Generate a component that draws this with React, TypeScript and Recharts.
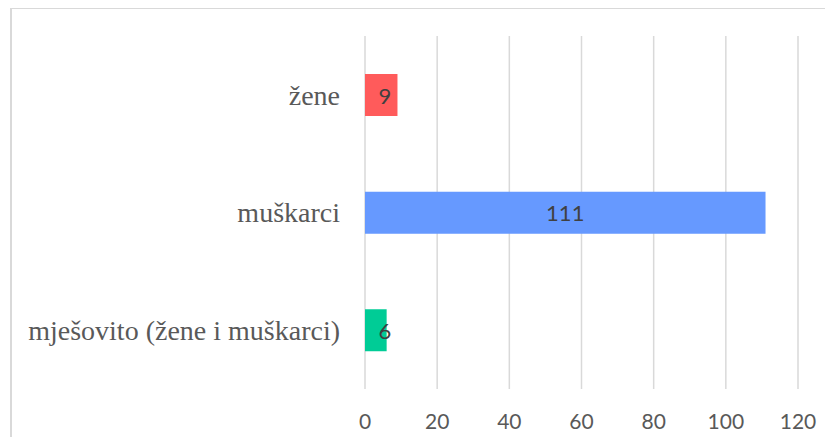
import { BarChart, Bar, XAxis, YAxis, CartesianGrid, Cell, LabelList } from "recharts"

const CATEGORIES = ["žene", "muškarci", "mješovito (žene i muškarci)"]
const VALUES = [9, 111, 6]
const BAR_COLORS = ["#FF5B5B", "#6699FF", "#00CC96"]
const X_TICKS = [0, 20, 40, 60, 80, 100, 120]

const data = CATEGORIES.map((name, i) => ({ name, value: VALUES[i] }))

function BarValue(props: any) {
  const { x, y, width, height, value } = props
  const cx = Math.max(x + width / 2, x + 20)
  return (
    <text
      x={cx}
      y={y + height / 2}
      textAnchor="middle"
      dominantBaseline="central"
      fill="#404040"
      style={{ fontFamily: "Lato, sans-serif", fontSize: 22 }}
    >
      {value}
    </text>
  )
}

export default function App() {
  return (
    <div style={{ position: "relative", width: 817, height: 429 }}>
      {/* chart frame, right and bottom edges fall outside the window */}
      <div
        style={{
          position: "absolute",
          left: 2,
          top: -1,
          width: 823,
          height: 437,
          borderTop: "2px solid #d9d9d9",
          borderLeft: "2px solid #d9d9d9",
          boxSizing: "border-box",
        }}
      />
      <BarChart
        width={817}
        height={450}
        data={data}
        layout="vertical"
        margin={{ top: 28, right: 27, bottom: 0, left: 0 }}
        barSize={42}
        style={{ overflow: "visible" }}
      >
        <CartesianGrid horizontal={false} stroke="#d9d9d9" strokeWidth={1.5} />
        <XAxis
          type="number"
          domain={[0, 120]}
          ticks={X_TICKS}
          axisLine={false}
          tickLine={false}
          tickSize={0}
          tickMargin={25}
          height={69}
          tick={{ fill: "#595959", fontSize: 21, fontFamily: "Lato, sans-serif" }}
        />
        <YAxis
          type="category"
          dataKey="name"
          width={357}
          axisLine={false}
          tickLine={false}
          tickSize={0}
          tickMargin={25}
          tick={{ fill: "#595959", fontSize: 28, fontFamily: "'Liberation Serif', serif" }}
        />
        <Bar dataKey="value" isAnimationActive={false}>
          {data.map((d, i) => (
            <Cell key={d.name} fill={BAR_COLORS[i]} />
          ))}
          <LabelList dataKey="value" content={BarValue} />
        </Bar>
      </BarChart>
    </div>
  )
}
